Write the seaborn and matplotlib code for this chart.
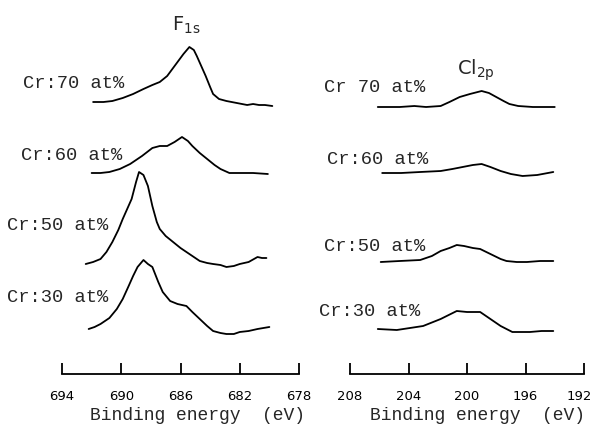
import matplotlib
matplotlib.use("Agg")
import matplotlib.pyplot as plt
import matplotlib.transforms as mtransforms
import numpy as np
import seaborn as sns

# sample labels, top to bottom
f_labels = ["Cr:70 at%", "Cr:60 at%", "Cr:50 at%", "Cr:30 at%"]
cl_labels = ["Cr 70 at%", "Cr:60 at%", "Cr:50 at%", "Cr:30 at%"]

# F 1s spectra (binding energy eV, intensity above baseline, arb. units)
f70_energy = [691.9, 691.2, 690.6, 689.9, 689.2, 688.5, 687.9, 687.4, 686.9, 686.5, 686.2, 685.8, 685.4,
              685.1, 684.9, 684.6, 684.3, 684.0, 683.8, 683.4, 682.9, 682.2, 681.5, 681.1, 680.7, 680.3, 679.8]
f70_counts = [4, 4, 5, 8, 12, 17, 21, 24, 30, 38, 44, 52, 59,
              56, 50, 40, 30, 19, 12, 7, 5, 3, 1, 2, 1, 1, 0]
f60_energy = [692.0, 691.4, 690.8, 690.1, 689.4, 688.6, 687.9, 687.4, 686.9, 686.4, 685.9, 685.5, 685.2,
              684.7, 684.2, 683.7, 683.3, 682.7, 681.9, 681.1, 680.1]
f60_counts = [1, 1, 2, 5, 10, 18, 26, 28, 28, 32, 37, 33, 28,
              21, 15, 9, 5, 1, 1, 1, 0]
f50_energy = [692.4, 691.9, 691.4, 691.0, 690.6, 690.2, 689.9, 689.6, 689.3, 689.0, 688.8, 688.5, 688.2,
              687.9, 687.6, 687.4, 687.0, 686.5, 686.0, 685.6, 685.1, 684.7, 684.2, 683.8, 683.3, 682.9,
              682.4, 682.0, 681.4, 680.8, 680.5, 680.2]
f50_counts = [3, 5, 8, 15, 25, 37, 48, 58, 68, 85, 95, 92, 81,
              61, 45, 38, 31, 25, 19, 15, 10, 6, 4, 3, 2, 0,
              1, 3, 5, 10, 9, 9]
f30_energy = [692.2, 691.8, 691.4, 690.8, 690.3, 689.9, 689.5, 689.2, 688.9, 688.5, 688.2, 687.9, 687.5,
              687.2, 686.7, 686.2, 685.9, 685.6, 685.2, 684.7, 684.2, 683.8, 683.3, 682.9, 682.4, 682.0,
              681.4, 680.8, 680.0]
f30_counts = [5, 7, 10, 16, 25, 35, 48, 58, 67, 74, 70, 67, 52,
              42, 33, 30, 29, 28, 22, 15, 8, 3, 1, 0, 0, 2,
              3, 5, 7]

# Cl 2p spectra
cl70_energy = [206.1, 205.3, 204.6, 203.6, 202.8, 201.8, 201.2, 200.5, 199.8, 199.0, 198.5, 198.0, 197.5,
               197.1, 196.5, 195.5, 194.8, 194.0]
cl70_counts = [0, 0, 0, 1, 0, 1, 5, 10, 13, 16, 14, 10, 6,
               3, 1, 0, 0, 0]
cl60_energy = [205.8, 204.5, 203.2, 201.8, 201.0, 200.3, 199.6, 199.0, 198.4, 197.7, 197.0, 196.2, 195.2, 194.1]
cl60_counts = [3, 3, 4, 5, 7, 9, 11, 12, 9, 5, 2, 0, 1, 4]
cl50_energy = [205.9, 204.6, 203.2, 202.4, 201.8, 201.2, 200.7, 200.2, 199.6, 199.1, 198.4, 197.7, 197.3,
               196.6, 195.9, 195.0, 194.1]
cl50_counts = [0, 1, 2, 6, 11, 14, 17, 16, 14, 13, 8, 3, 1,
               0, 0, 1, 1]
cl30_energy = [206.1, 204.8, 203.9, 203.0, 201.8, 200.7, 200.0, 199.1, 198.4, 197.7, 196.9, 196.3, 195.7,
               194.9, 194.1]
cl30_counts = [3, 2, 4, 6, 13, 21, 20, 20, 13, 6, 0, 0, 0,
               1, 1]

# vertical stacking offsets
f_offsets = [268, 200, 107, 40]
cl_offsets = [267, 198, 112, 42]

f_ticks = [694, 690, 686, 682, 678]
cl_ticks = [208, 204, 200, 196, 192]

sns.set_style("white")
plt.rcParams["font.family"] = ["DejaVu Sans"]
plt.rcParams["mathtext.fontset"] = "dejavusans"

fig = plt.figure(figsize=(5.95, 4.31), dpi=100)
ax_f = fig.add_axes([62 / 595, 1 - 375 / 431, 237 / 595, 375 / 431])
ax_c = fig.add_axes([350 / 595, 1 - 375 / 431, 234 / 595, 375 / 431])

mono = "Liberation Mono"


def draw_panel(ax, energies, counts, offsets, labels, label_pos, ticks, xlim, title, title_pos, xlabel_x):
    for e, c, off in zip(energies, counts, offsets):
        sns.lineplot(x=e, y=np.array(c) + off, ax=ax, color="black", linewidth=1.3)
    for lab, (lx, ly) in zip(labels, label_pos):
        ax.text(lx, ly, lab, ha="left", va="center", fontsize=13.5, family=mono, clip_on=False)
    ax.text(title_pos[0], title_pos[1], title, ha="center", va="center", fontsize=14)
    ax.set_xlim(*xlim)
    ax.set_ylim(0, 375)
    ax.set_xticks(ticks)
    ax.set_xticklabels([str(t) for t in ticks], fontsize=9.5)
    ax.set_yticks([])
    for s in ["top", "left", "right"]:
        ax.spines[s].set_visible(False)
    ax.spines["bottom"].set_linewidth(1.3)
    ax.spines["bottom"].set_color("black")
    ax.tick_params(axis="x", bottom=True, direction="in", length=8, width=1.3, pad=11, colors="black")
    ax.set_xlabel("Binding energy  (eV)", fontsize=13, family=mono)
    ax.xaxis.set_label_coords(xlabel_x, -0.085)
    ax.patch.set_alpha(0)


draw_panel(ax_f,
           [f70_energy, f60_energy, f50_energy, f30_energy],
           [f70_counts, f60_counts, f50_counts, f30_counts],
           f_offsets, f_labels,
           [(696.6, 291), (696.8, 220), (697.7, 149), (697.7, 77)],
           f_ticks, (694, 678), r"F$_{\mathregular{1s}}$", (685.6, 350), 0.57)

draw_panel(ax_c,
           [cl70_energy, cl60_energy, cl50_energy, cl30_energy],
           [cl70_counts, cl60_counts, cl50_counts, cl30_counts],
           cl_offsets, cl_labels,
           [(209.8, 288), (209.6, 215), (209.8, 128), (210.1, 63)],
           cl_ticks, (208, 192), r"Cl$_{\mathregular{2p}}$", (199.4, 305), 0.545)

# last tick label sits a little left of its tick in the original, keeps it inside the frame
last = ax_c.get_xticklabels()[-1]
last.set_transform(last.get_transform() + mtransforms.ScaledTranslation(-5 / 100, 0, fig.dpi_scale_trans))

fig.savefig("out.png", dpi=100)
